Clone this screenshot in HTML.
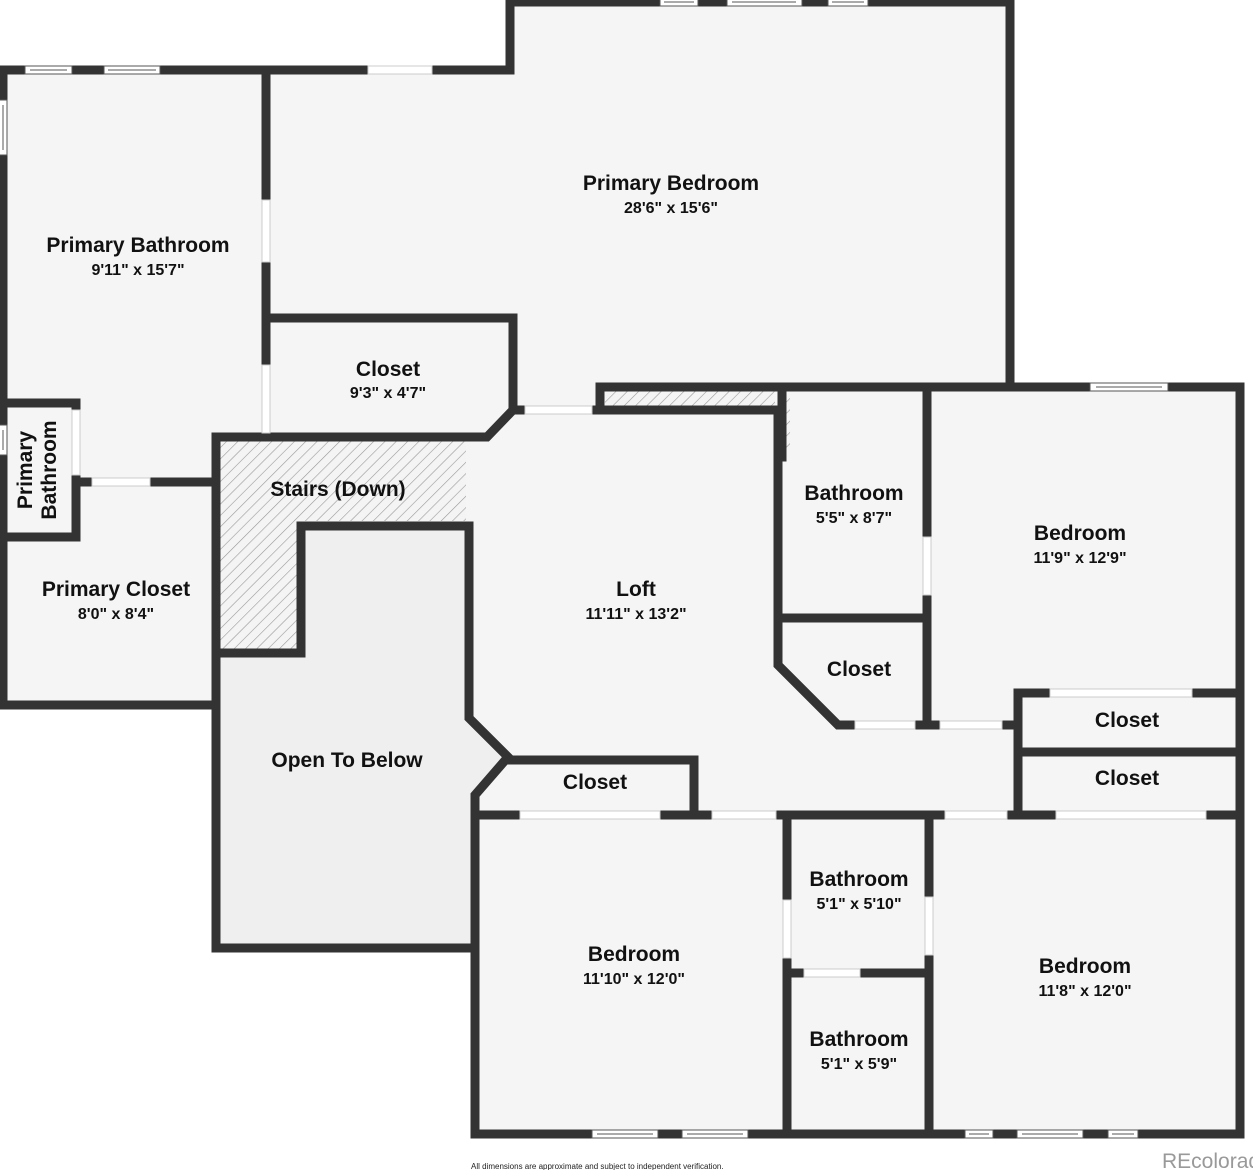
<!DOCTYPE html>
<html><head><meta charset="utf-8">
<style>
html,body{margin:0;padding:0;background:#fff;}
svg{display:block;}
text{font-family:"Liberation Sans",sans-serif;font-weight:bold;fill:#111;text-anchor:middle;}
.s{font-size:16px;}
.l{font-size:21px;}
</style></head><body>
<svg width="1253" height="1170" viewBox="0 0 1253 1170" xmlns="http://www.w3.org/2000/svg">
<defs>
<pattern id="h" width="8" height="8" patternUnits="userSpaceOnUse" patternTransform="rotate(45)">
<rect width="8" height="8" fill="#f4f4f4"/><line x1="0" y1="0" x2="0" y2="8" stroke="#999" stroke-width="1.2"/>
</pattern>
</defs>
<g fill="#f5f5f5">
<polygon points="3,70 510,70 510,2 1010,2 1010,387 1240,387 1240,1134 475,1134 475,948 216,948 216,705 3,705"/>
</g>
<polygon points="216,653 301,653 301,526 469,526 469,718 508,757 475,795 475,948 216,948" fill="#efefef"/>
<polygon points="220,441 466,441 466,521 297,521 297,649 220,649" fill="url(#h)"/>
<rect x="605" y="391" width="170" height="15" fill="url(#h)"/>
<rect x="784" y="391" width="6" height="60" fill="url(#h)"/>
<g stroke="#333" stroke-width="9" fill="none" stroke-linecap="square" stroke-linejoin="miter">
<polyline points="3,70 510,70 510,2 1010,2 1010,387 1240,387 1240,1134 475,1134 475,795 508,757 469,718 469,526 301,526 301,653 216,653"/>
<polyline points="3,70 3,705 216,705"/>
<line x1="216" y1="437" x2="216" y2="948"/>
<line x1="216" y1="948" x2="475" y2="948"/>
<line x1="266" y1="70" x2="266" y2="437"/>
<polyline points="266,318 513,318 513,410 487,437 216,437"/>
<line x1="513" y1="410" x2="600" y2="410"/>
<line x1="600" y1="387" x2="1010" y2="387"/>
<polyline points="600,387 600,410 782,410"/>
<polyline points="782,387 782,457"/>
<polyline points="778,410 778,665 838,725 1018,725"/>
<line x1="927" y1="387" x2="927" y2="725"/>
<line x1="778" y1="618" x2="927" y2="618"/>
<line x1="1018" y1="693" x2="1018" y2="815"/>
<line x1="1018" y1="693" x2="1240" y2="693"/>
<line x1="1018" y1="752" x2="1240" y2="752"/>
<polyline points="508,760 694,760 694,815"/>
<line x1="475" y1="815" x2="1240" y2="815"/>
<line x1="787" y1="815" x2="787" y2="1134"/>
<line x1="929" y1="815" x2="929" y2="1134"/>
<line x1="787" y1="973" x2="929" y2="973"/>
<polyline points="3,403 76,403 76,537 3,537"/>
<line x1="76" y1="482" x2="216" y2="482"/>
</g>
<g fill="#fff" stroke="#ccc" stroke-width="1">
<rect x="262" y="200" width="8" height="62"/>
<rect x="262" y="365" width="8" height="68"/>
<rect x="525" y="406" width="67" height="8"/>
<rect x="923" y="537" width="8" height="58"/>
<rect x="855" y="721" width="60" height="8"/>
<rect x="940" y="721" width="62" height="8"/>
<rect x="1050" y="689" width="142" height="8"/>
<rect x="520" y="811" width="140" height="8"/>
<rect x="712" y="811" width="64" height="8"/>
<rect x="945" y="811" width="62" height="8"/>
<rect x="1056" y="811" width="150" height="8"/>
<rect x="783" y="900" width="8" height="58"/>
<rect x="925" y="897" width="8" height="58"/>
<rect x="804" y="969" width="56" height="8"/>
<rect x="72" y="410" width="8" height="65"/>
<rect x="92" y="478" width="58" height="8"/>
<rect x="368" y="66" width="64" height="8"/>
</g>
<g fill="#fff" stroke="#555" stroke-width="1">
<rect x="25" y="66" width="47" height="8"/><line x1="30" y1="70" x2="67" y2="70"/>
<rect x="104" y="66" width="56" height="8"/><line x1="108" y1="70" x2="156" y2="70"/>
<rect x="660" y="-2" width="38" height="8"/><line x1="664" y1="2" x2="694" y2="2"/>
<rect x="727" y="-2" width="75" height="8"/><line x1="732" y1="2" x2="796" y2="2"/>
<rect x="828" y="-2" width="40" height="8"/><line x1="832" y1="2" x2="864" y2="2"/>
<rect x="1090" y="383" width="78" height="8"/><line x1="1096" y1="387" x2="1162" y2="387"/>
<rect x="-1" y="100" width="8" height="55"/><line x1="3" y1="105" x2="3" y2="150"/>
<rect x="-1" y="425" width="8" height="30"/><line x1="3" y1="430" x2="3" y2="450"/>
<rect x="592" y="1130" width="66" height="8"/><line x1="597" y1="1134" x2="653" y2="1134"/>
<rect x="682" y="1130" width="66" height="8"/><line x1="687" y1="1134" x2="743" y2="1134"/>
<rect x="965" y="1130" width="28" height="8"/><line x1="969" y1="1134" x2="989" y2="1134"/>
<rect x="1017" y="1130" width="66" height="8"/><line x1="1022" y1="1134" x2="1078" y2="1134"/>
<rect x="1108" y="1130" width="30" height="8"/><line x1="1112" y1="1134" x2="1134" y2="1134"/>
</g>
<text class="l" x="671" y="190">Primary Bedroom</text>
<text class="s" x="671" y="213">28'6" x 15'6"</text>
<text class="l" x="138" y="252">Primary Bathroom</text>
<text class="s" x="138" y="275">9'11" x 15'7"</text>
<text class="l" x="388" y="376">Closet</text>
<text class="s" x="388" y="398">9'3" x 4'7"</text>
<text class="l" x="338" y="496">Stairs (Down)</text>
<text class="l" x="116" y="596">Primary Closet</text>
<text class="s" x="116" y="619">8'0" x 8'4"</text>
<text class="l" transform="translate(32,470) rotate(-90)">Primary</text>
<text class="l" transform="translate(56,470) rotate(-90)">Bathroom</text>
<text class="l" x="347" y="767">Open To Below</text>
<text class="l" x="636" y="596">Loft</text>
<text class="s" x="636" y="619">11'11" x 13'2"</text>
<text class="l" x="854" y="500">Bathroom</text>
<text class="s" x="854" y="523">5'5" x 8'7"</text>
<text class="l" x="1080" y="540">Bedroom</text>
<text class="s" x="1080" y="563">11'9" x 12'9"</text>
<text class="l" x="859" y="676">Closet</text>
<text class="l" x="1127" y="727">Closet</text>
<text class="l" x="1127" y="785">Closet</text>
<text class="l" x="595" y="789">Closet</text>
<text class="l" x="859" y="886">Bathroom</text>
<text class="s" x="859" y="909">5'1" x 5'10"</text>
<text class="l" x="634" y="961">Bedroom</text>
<text class="s" x="634" y="984">11'10" x 12'0"</text>
<text class="l" x="1085" y="973">Bedroom</text>
<text class="s" x="1085" y="996">11'8" x 12'0"</text>
<text class="l" x="859" y="1046">Bathroom</text>
<text class="s" x="859" y="1069">5'1" x 5'9"</text>
<text x="471" y="1169" style="font-size:8px;font-weight:normal;text-anchor:start;fill:#222">All dimensions are approximate and subject to independent verification.</text>
<text x="1162" y="1168" style="font-size:21px;font-weight:normal;text-anchor:start;fill:#999">REcolorado</text>
</svg>
</body></html>
